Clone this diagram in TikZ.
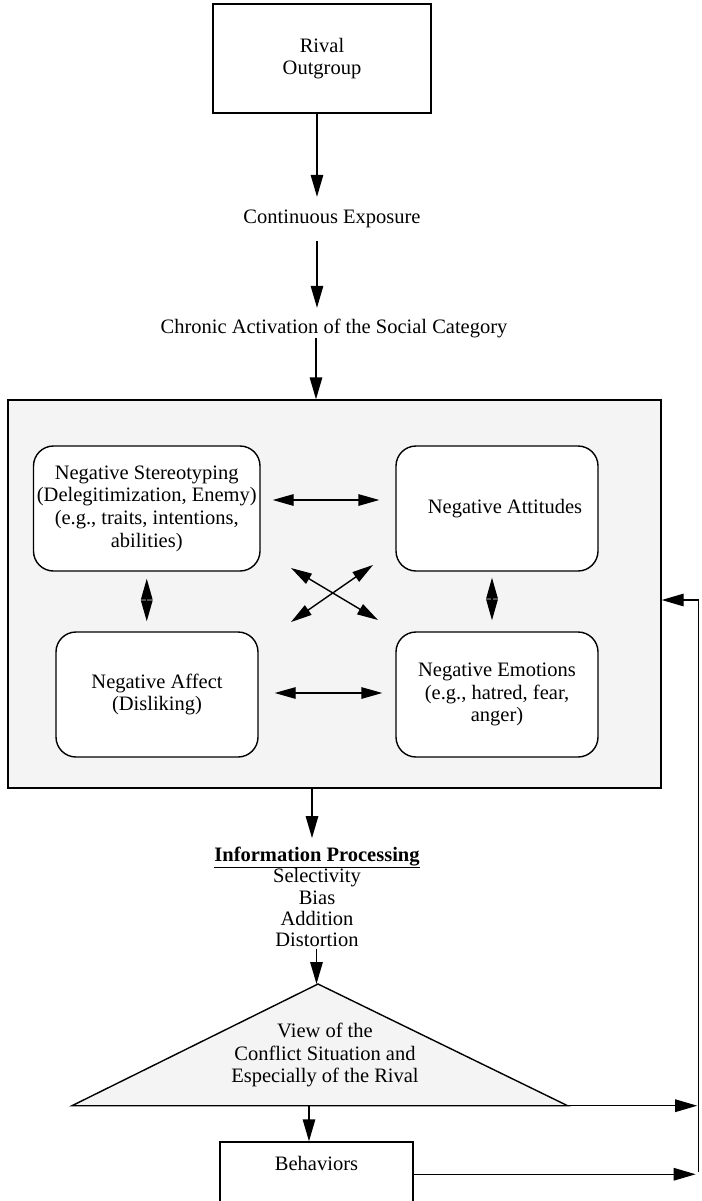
\documentclass[tikz,border=0pt]{standalone}
\usepackage{fontspec}
\setmainfont{Liberation Serif}
\usetikzlibrary{arrows.meta,calc}
\newcommand\diagfont{\fontsize{20.5}{22.7}\selectfont}
\newcommand\infofont{\fontsize{20.5}{21.2}\selectfont}
\definecolor{panel}{RGB}{244,244,244}
\begin{document}
\begin{tikzpicture}[x=1pt,y=-1pt,
  lw/.style={line width=1.4pt},
  arr/.style={lw,-{Triangle[length=22pt,width=12.5pt]}},
  dbl/.style={lw,{Triangle[length=21pt,width=11.5pt]}-{Triangle[length=21pt,width=11.5pt]}},
  plainbox/.style={draw,lw,inner sep=0pt,align=center,font=\diagfont},
  rbox/.style={plainbox,rounded corners=20pt,fill=white,minimum height=125pt},
  lbl/.style={inner sep=0pt,align=center,font=\diagfont},
]
\useasboundingbox (0,0) rectangle (701,1201);

% top part
\node[plainbox,minimum width=218pt,minimum height=109pt] (rival) at (322,58.5) {Rival\\Outgroup};
\node[lbl,minimum height=44pt] (cexp) at (332,219) {Continuous Exposure};
\node[lbl,minimum height=40pt] (chronic) at (334,328) {Chronic Activation of the Social Category};
\coordinate (c1) at (317,0);
\coordinate (c2) at (316,0);
\draw[arr] (rival.south -| c1) -- (cexp.north -| c1);
\draw[arr] (cexp.south -| c1) -- (chronic.north -| c1);

% big panel
\node[draw,lw,fill=panel,inner sep=0pt,minimum width=653pt,minimum height=388pt] (big) at (334.5,594) {};
\draw[arr,shorten <=-10pt] (chronic.south -| c2) -- (big.north -| c2);

\node[rbox,minimum width=226.5pt] (ns) at (146.75,508.5) {Negative Stereotyping\\(Delegitimization, Enemy)\\(e.g., traits, intentions,\\abilities)};
\node[rbox,minimum width=202pt] (natt) at (497,508.5) {\hspace*{16pt}Negative Attitudes};
\node[rbox,minimum width=202pt] (naff) at (157,694.5) {Negative Affect\\(Disliking)};
\node[rbox,minimum width=202pt] (nemo) at (497,694.5) {Negative Emotions\\(e.g., hatred, fear,\\anger)};

\draw[dbl] ([shift={(12,-8.5)}]ns.east) -- ([shift={(-16,-8.5)}]natt.west);
\draw[dbl] ([shift={(16,-1.5)}]naff.east) -- ([shift={(-13,-1.5)}]nemo.west);
\draw[dbl,shorten <=7pt,shorten >=10pt] (ns.south) -- (naff.north -| ns.south);
\coordinate (rv) at (492,0);
\draw[dbl,shorten <=6pt,shorten >=11pt] (natt.south -| rv) -- (nemo.north -| rv);

\coordinate (x1a) at (291,568);
\coordinate (x1b) at (378,620);
\coordinate (x2a) at (373,565);
\coordinate (x2b) at (291,622);
\draw[dbl] (x1a) -- (x1b);
\draw[dbl] (x2a) -- (x2b);

% information processing
\node[inner sep=0pt,align=center,font=\infofont] (info) at (317,897) {\textbf{\underline{Information Processing}}\\Selectivity\\Bias\\Addition\\Distortion};
\coordinate (c3) at (312,0);
\draw[arr,shorten >=9pt] (big.south -| c3) -- (info.north -| c3);

% triangle
\coordinate (apex) at (318,984);
\coordinate (bl) at (72,1105.7);
\coordinate (br) at (567.6,1105.7);
\draw[lw,fill=panel,line join=miter] (apex) -- (br) -- (bl) -- cycle;
\node[lbl] (view) at (325,1055) {View of the\\Conflict Situation and\\Especially of the Rival};
\coordinate (c4) at (316.5,0);
\draw[arr,shorten <=2pt] (info.south -| c4) -- (apex -| c4);

% behaviors
\node[plainbox,minimum width=193pt,minimum height=59.5pt] (beh) at (316.5,1171.75) {Behaviors\\[-5pt]\mbox{}};
\coordinate (c5) at (309,0);
\draw[arr] (bl -| c5) -- (beh.north -| c5);

% feedback
\coordinate (fbT) at (698.7,600);
\coordinate (fbV) at (698.7,1105.7);
\coordinate (fbB) at (698.7,1169);
\draw[lw] ([yshift=-3pt]fbB) -- (fbT);
\draw[arr] (fbT) -- (big.east |- fbT);
\draw[arr,shorten >=1.5pt] (br) -- (fbV);
\draw[arr,shorten >=3pt] ([yshift=-2.5pt]beh.east) -- ([yshift=-2.5pt]beh.east -| fbB);
\end{tikzpicture}
\end{document}
